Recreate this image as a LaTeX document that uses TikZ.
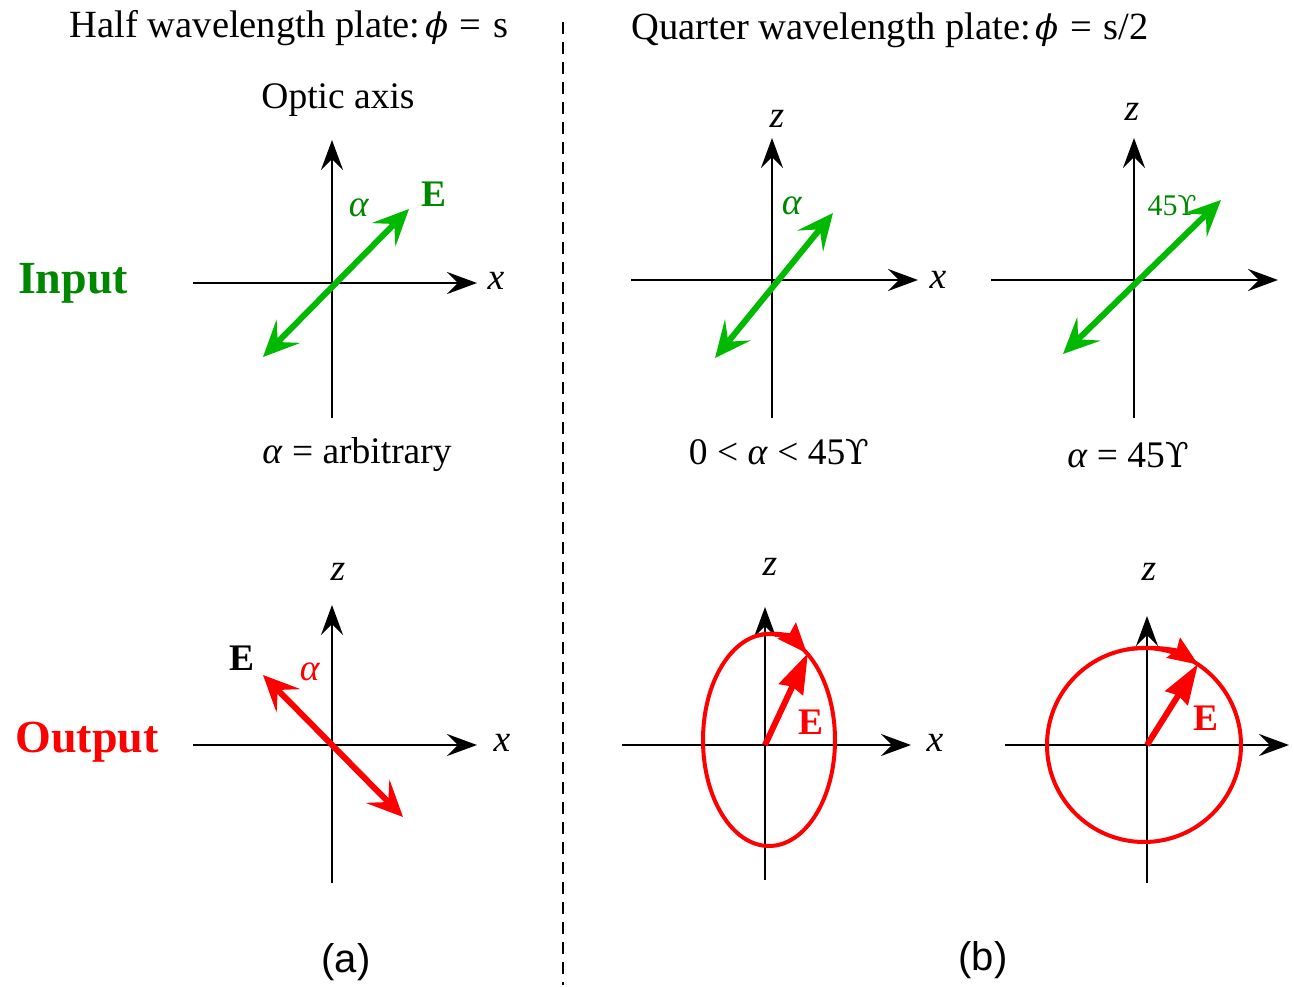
\documentclass[tikz,border=0pt]{standalone}
\usepackage{fontspec}
\setmainfont{Liberation Serif}
\newfontfamily\labsans{Liberation Sans}
\newfontfamily\dvs{DejaVu Serif}
\usetikzlibrary{arrows.meta}
\definecolor{arrgreen}{RGB}{0,185,0}
\definecolor{txtgreen}{RGB}{0,135,0}
\definecolor{myred}{RGB}{255,0,0}
\newcommand{\upsh}{{\dvs\fontsize{0.92em}{1em}\selectfont ϒ}}
\newcommand{\phisym}{{\dvs\itshape\fontsize{0.88em}{1em}\selectfont ϕ}}
\begin{document}
\begin{tikzpicture}[x=1pt,y=-1pt,
  axis/.style={line width=2.6pt,-{Stealth[length=30pt,width=22pt,inset=11pt]}},
  field/.style={line width=6pt,{Stealth[length=36pt,width=33pt,inset=15pt]}-{Stealth[length=36pt,width=33pt,inset=15pt]}},
  evec/.style={line width=6pt,myred,-{Stealth[length=40pt,width=26pt,inset=3pt]}},
  orbit/.style={line width=4pt,myred},
  orbitarrow/.style={line width=4pt,myred,-{Stealth[length=30pt,width=24pt,inset=4pt]}},
  lab/.style={inner sep=0pt,font=\fontsize{37.5}{42}\selectfont},
  titlelab/.style={inner sep=0pt,font=\fontsize{38.5}{42}\selectfont},
  smalllab/.style={inner sep=0pt,font=\fontsize{30}{34}\selectfont},
  biglab/.style={inner sep=0pt,font=\fontsize{46}{50}\selectfont\bfseries},
  caplab/.style={inner sep=0pt,font=\fontsize{40}{44}\selectfont\labsans},
  divider/.style={line width=2pt,dash pattern=on 12pt off 8pt}
]
\useasboundingbox (0,0) rectangle (1294,987);

% titles and divider
\node[titlelab] (t1) at (289,28) {Half wavelength plate:\hspace{0.12em}\phisym\hspace{0.3em}=\hspace{0.3em}s};
\node[titlelab] (t2) at (890,30) {Quarter wavelength plate:\hspace{0.12em}\phisym\hspace{0.3em}=\hspace{0.3em}s/2};
\coordinate (dtop) at (563,22);
\coordinate (dbot) at (563,985);
\draw[divider] (dtop) -- (dbot);

% ---- (a) input ----
\coordinate (aiL) at (193,283); \coordinate (aiR) at (477,283);
\coordinate (aiB) at (332,418); \coordinate (aiT) at (332,140);
\draw[axis] (aiL) -- (aiR);
\draw[axis] (aiB) -- (aiT);
\coordinate (aiE1) at (263,357); \coordinate (aiE2) at (409,209);
\draw[field,arrgreen] (aiE1) -- (aiE2);
\node[lab] (optic) at (338,100) {Optic axis};
\node[lab] (aix) at (496,281) {\textit{x}};
\node[lab,txtgreen] (aia) at (359,208) {\textit{α}};
\node[lab,txtgreen] (aiE) at (434,194) {\textbf{E}};
\node[lab] (aicap) at (357,455) {\textit{α} = arbitrary};
\node[biglab,txtgreen] (input) at (73,283) {Input};

% ---- (a) output ----
\coordinate (aoL) at (193,745); \coordinate (aoR) at (477,745);
\coordinate (aoB) at (332,883); \coordinate (aoT) at (332,605);
\draw[axis] (aoL) -- (aoR);
\draw[axis] (aoB) -- (aoT);
\coordinate (aoE1) at (403,817); \coordinate (aoE2) at (263,675);
\draw[field,myred] (aoE1) -- (aoE2);
\node[lab] (aoz) at (338,572) {\textit{z}};
\node[lab] (aox) at (502,743) {\textit{x}};
\node[lab] (aoE) at (242,658) {\textbf{E}};
\node[lab,myred] (aoa) at (310,672) {\textit{α}};
\node[biglab,myred] (output) at (87,742) {Output};
\node[caplab] (capa) at (346,962) {(a)};

% ---- (b) input, 0<alpha<45 ----
\coordinate (b1L) at (631,280); \coordinate (b1R) at (918,280);
\coordinate (b1B) at (772,418); \coordinate (b1T) at (772,138);
\draw[axis] (b1L) -- (b1R);
\draw[axis] (b1B) -- (b1T);
\coordinate (b1E1) at (715,358); \coordinate (b1E2) at (833,213);
\draw[field,arrgreen] (b1E1) -- (b1E2);
\node[lab] (b1z) at (777,119) {\textit{z}};
\node[lab] (b1x) at (938,280) {\textit{x}};
\node[lab,txtgreen] (b1a) at (792,206) {\textit{α}};
\node[lab] (b1cap) at (779,452) {0 < \textit{α} < 45\upsh};

% ---- (b) input, alpha=45 ----
\coordinate (b2L) at (991,280); \coordinate (b2R) at (1278,280);
\coordinate (b2B) at (1134,418); \coordinate (b2T) at (1134,138);
\draw[axis] (b2L) -- (b2R);
\draw[axis] (b2B) -- (b2T);
\node[smalllab,txtgreen] (b2a) at (1172,205) {45\upsh};
\coordinate (b2E1) at (1063,354); \coordinate (b2E2) at (1221,200);
\draw[field,arrgreen] (b2E1) -- (b2E2);
\node[lab] (b2z) at (1132,112) {\textit{z}};
\node[lab] (b2cap) at (1128,455) {\textit{α} = 45\upsh};

% ---- (b) output, ellipse ----
\coordinate (c1L) at (622,745); \coordinate (c1R) at (911,745);
\coordinate (c1B) at (765,880); \coordinate (c1T) at (765,607);
\draw[axis] (c1L) -- (c1R);
\draw[axis] (c1B) -- (c1T);
\coordinate (c1c) at (769,740);
\draw[orbit] (c1c) ellipse [x radius=66, y radius=106];
\draw[orbitarrow] ([shift={(-100:66 and 106)}]c1c) arc[start angle=-100,end angle=-55,x radius=66,y radius=106];
\coordinate (c1o) at (765,745); \coordinate (c1tip) at (808,653);
\draw[evec] (c1o) -- (c1tip);
\node[lab,myred] (c1E) at (811,722) {\textbf{E}};
\node[lab] (c1z) at (770,567) {\textit{z}};
\node[lab] (c1x) at (935,743) {\textit{x}};

% ---- (b) output, circle ----
\coordinate (c2L) at (1005,745); \coordinate (c2R) at (1289,745);
\coordinate (c2B) at (1147,883); \coordinate (c2T) at (1147,616);
\draw[axis] (c2L) -- (c2R);
\draw[axis] (c2B) -- (c2T);
\coordinate (c2c) at (1144,745);
\draw[orbit] (c2c) circle [radius=97];
\draw[orbitarrow] ([shift={(-100:97 and 97)}]c2c) arc[start angle=-100,end angle=-56,x radius=97,y radius=97];
\coordinate (c2o) at (1147,745); \coordinate (c2tip) at (1198,664);
\draw[evec] (c2o) -- (c2tip);
\node[lab,myred] (c2E) at (1206,718) {\textbf{E}};
\node[lab] (c2z) at (1149,572) {\textit{z}};
\node[caplab] (capb) at (983,960) {(b)};
\end{tikzpicture}
\end{document}
